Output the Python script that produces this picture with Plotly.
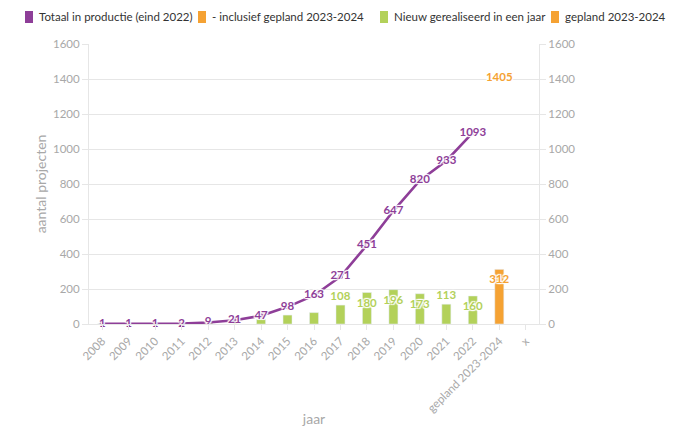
import plotly.graph_objects as go

years = [str(y) for y in range(2008, 2023)]
cat_gepland = "gepland 2023-2024"
cat_extra = "x"
categories = years + [cat_gepland, cat_extra]

totaal = [1, 1, 1, 2, 9, 21, 47, 98, 163, 271, 451, 647, 820, 933, 1093]
nieuw = [1, 0, 0, 1, 7, 12, 26, 51, 65, 108, 180, 196, 173, 113, 160]
nieuw_label_from = 2017
gepland = [312]
inclusief = [1405]

legend_names = ["Totaal in productie (eind 2022)", "- inclusief gepland 2023-2024",
                "Nieuw gerealiseerd in een jaar", "gepland 2023-2024"]

PURPLE = "#8E3E98"
ORANGE = "#F5A233"
GREEN = "#B3D15A"
GRID = "#E6E6E6"
TICK = "#A8A8A8"
FONT = "Lato, 'Source Sans Pro', sans-serif"
SHADOW = "1px 1px 1px white, -1px -1px 1px white, 1px -1px 1px white, -1px 1px 1px white, 0 0 2px white"

# the page body adds an 8px offset, so the figure is 8px smaller than the window
OFF = 8
W, H = 675 - OFF, 432 - OFF
ML, MR, MT, MB = 89 - OFF, 136, 44 - OFF, 108
PW, PH = W - ML - MR, H - MT - MB


def px(x):  # window pixel -> paper
    return (x - OFF - ML) / PW


def py(y):  # window pixel -> paper
    return (H - MB - (y - OFF)) / PH


fig = go.Figure()

nieuw_text = [str(v) if int(y) >= nieuw_label_from else "" for y, v in zip(years, nieuw)]
nieuw_pos = ["outside" if v < 150 else "inside" for v in nieuw]
lblfont = dict(family=FONT, size=11.5, color=GREEN, weight="bold", shadow=SHADOW)
fig.add_trace(go.Bar(
    x=years, y=nieuw, name=legend_names[2],
    marker_color=GREEN, width=0.34,
    text=nieuw_text, textposition=nieuw_pos, insidetextanchor="end", textangle=0,
    constraintext="none", cliponaxis=False,
    textfont=lblfont, insidetextfont=lblfont, outsidetextfont=lblfont,
    hoverinfo="skip",
))

ofont = dict(family=FONT, size=11.5, color=ORANGE, weight="bold", shadow=SHADOW)
fig.add_trace(go.Bar(
    x=[cat_gepland], y=gepland, name=legend_names[3],
    marker_color=ORANGE, width=0.34,
    text=[str(v) for v in gepland], textposition="inside", insidetextanchor="end",
    textangle=0, constraintext="none", cliponaxis=False,
    insidetextfont=ofont, textfont=ofont,
))

fig.add_trace(go.Scatter(
    x=years, y=totaal, mode="lines+markers+text", name=legend_names[0],
    line=dict(color=PURPLE, width=2.6), marker=dict(color=PURPLE, size=5),
    text=[str(v) for v in totaal], textposition="middle center",
    textfont=dict(family=FONT, size=11.5, color=PURPLE, weight="bold", shadow=SHADOW),
    cliponaxis=False,
))

fig.add_trace(go.Scatter(
    x=[cat_gepland], y=inclusief, mode="text", name=legend_names[1], yaxis="y2",
    text=[str(v) for v in inclusief], textposition="middle center",
    textfont=ofont, cliponaxis=False,
))

# custom one-row legend (squares + labels)
legend_colors = [PURPLE, ORANGE, GREEN, ORANGE]
legend_sq_x = [25, 198, 380, 551]
legend_txt_x = [37, 210, 392, 563]
for name, col, sx, tx in zip(legend_names, legend_colors, legend_sq_x, legend_txt_x):
    fig.add_shape(type="rect", xref="paper", yref="paper",
                  x0=px(sx), x1=px(sx + 8), y0=py(23), y1=py(11),
                  fillcolor=col, line=dict(width=0), layer="above")
    fig.add_annotation(text=name, xref="paper", yref="paper", x=px(tx), y=py(17),
                       xanchor="left", yanchor="middle", showarrow=False,
                       font=dict(family=FONT, size=11.5, color="#333333"))

yax = dict(range=[0, 1600], dtick=200, showline=True, linecolor=GRID,
           ticks="outside", ticklen=6, tickcolor=GRID, zeroline=False, automargin=False,
           tickfont=dict(family=FONT, size=11.5, color=TICK))

fig.update_layout(
    width=W, height=H,
    margin=dict(l=ML, r=MR, t=MT, b=MB),
    paper_bgcolor="white", plot_bgcolor="white",
    barmode="overlay", showlegend=False,
    font=dict(family=FONT, color="#333333"),
    xaxis=dict(type="category", categoryorder="array", categoryarray=categories,
               range=[-0.5, len(categories) - 0.5], tickangle=-45, automargin=False,
               showline=True, linecolor=GRID, ticks="outside", ticklen=5, tickcolor=GRID,
               showgrid=False, tickfont=dict(family=FONT, size=11.5, color=TICK),
               title=dict(text="jaar", font=dict(family=FONT, size=14, color=TICK), standoff=0)),
    yaxis=dict(**yax, gridcolor=GRID,
               title=dict(text="aantal projecten",
                          font=dict(family=FONT, size=14, color=TICK), standoff=3)),
    yaxis2=dict(**yax, overlaying="y", side="right", showgrid=False),
)

fig.write_html("out.html")
